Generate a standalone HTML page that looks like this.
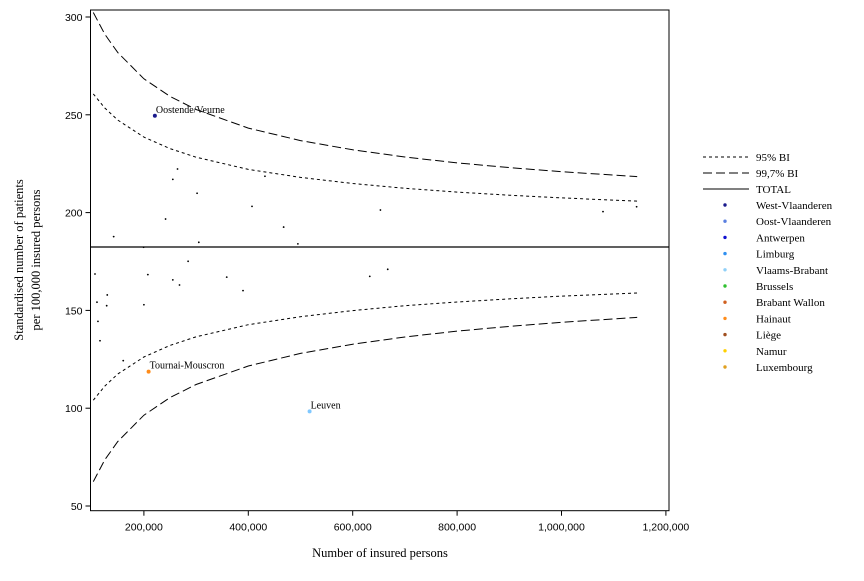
<!DOCTYPE html>
<html><head><meta charset="utf-8"><style>
body{margin:0;background:#fff;}
svg text{font-family:"Liberation Sans",sans-serif;}
.serif{font-family:"Liberation Serif",serif;}
</style></head><body>
<svg id="chart" width="864" height="576" xmlns="http://www.w3.org/2000/svg"></svg>
<script>
const total = 182.4;
const bandN = [103000,125000,150000,200000,250000,300000,400000,500000,600000,700000,800000,900000,1000000,1145000];
const ci95Upper = [260.7,253.5,247.3,238.6,232.7,228.3,222.1,218.0,214.9,212.4,210.5,208.9,207.5,205.9];
const ci95Lower = [104.1,111.3,117.5,126.2,132.1,136.5,142.7,146.8,149.9,152.4,154.3,155.9,157.3,158.9];
const ci997Upper = [302.3,291.2,281.8,268.4,259.4,252.7,243.2,236.8,232.1,228.4,225.4,223.0,220.9,218.4];
const ci997Lower = [62.5,73.6,83.0,96.4,105.4,112.1,121.6,128.0,132.7,136.4,139.4,141.8,143.9,146.4];
const pointX = [264400,255400,301900,431900,407100,241500,467700,142100,199400,305200,495000,653100,1079500,1143900,284700,106300,207600,358700,255400,268200,389900,129800,110100,128700,200000,112000,115900,160400,632700,667100];
const pointY = [222.3,217.0,209.9,218.6,203.2,196.7,192.6,187.7,182.3,184.8,184.0,201.3,200.5,203.0,175.1,168.6,168.3,167.0,165.6,163.0,160.1,157.9,154.2,152.4,152.9,144.4,134.5,124.3,167.4,171.0];
const namedLabels = ["Oostende/Veurne","Tournai-Mouscron","Leuven"];
const namedX = [221000,209000,517400];
const namedY = [249.5,118.7,98.4];
const namedColors = ["#1a1a8c","#ff8c1a","#80c8ff"];
const xTicks = [200000,400000,600000,800000,1000000,1200000];
const xTickLabels = ["200,000","400,000","600,000","800,000","1,000,000","1,200,000"];
const yTicks = [50,100,150,200,250,300];
const legendNames = ["West-Vlaanderen","Oost-Vlaanderen","Antwerpen","Limburg","Vlaams-Brabant","Brussels","Brabant Wallon","Hainaut","Liège","Namur","Luxembourg"];
const legendColors = ["#1a1a8c","#5a7fe0","#1010d0","#3090f0","#90d0f8","#30c030","#d06020","#ff8c1a","#a05020","#ffd000","#e0a020"];

const L=90.5,R=669,T=10,B=510.7;
const sx=v=>39.5+v/200000*104.4;
const sy=v=>17+(300-v)/50*97.8;
const svg=document.getElementById('chart');
const NS='http://www.w3.org/2000/svg';
function mk(tag,attrs,parent){const e=document.createElementNS(NS,tag);for(const k in attrs)e.setAttribute(k,attrs[k]);(parent||svg).appendChild(e);return e;}

const defs=mk('defs',{});
const cp=mk('clipPath',{id:'clip'},defs);
mk('rect',{x:L,y:T,width:R-L,height:B-T},cp);

const frame=mk('rect',{x:L,y:T,width:R-L,height:B-T,fill:'none',stroke:'#000','stroke-width':1});



const g=mk('g',{'clip-path':'url(#clip)'});



function line(vals,dash,name){
  const d=bandN.map((n,i)=>(i?'L':'M')+sx(n).toFixed(1)+','+sy(vals[i]).toFixed(1)).join(' ');
  const p=mk('path',{d:d,fill:'none',stroke:'#000','stroke-width':1,'stroke-dasharray':dash},g);
  
  
}
line(ci95Upper,'3,3','ci95-upper-line');
line(ci95Lower,'3,3','ci95-lower-line');
line(ci997Upper,'9,4','ci997-upper-line');
line(ci997Lower,'9,4','ci997-lower-line');
const tl=mk('line',{x1:L,x2:R,y1:sy(total),y2:sy(total),stroke:'#000','stroke-width':1.2},g);



pointX.forEach((x,i)=>{
  const c=mk('circle',{cx:sx(x),cy:sy(pointY[i]),r:0.9,fill:'#000'},g);
  
  
});
namedLabels.forEach((lab,i)=>{
  const c=mk('circle',{cx:sx(namedX[i]),cy:sy(namedY[i]),r:2,fill:namedColors[i]},g);
  
  
  const t=mk('text',{x:sx(namedX[i])+1,y:sy(namedY[i])-3,'font-size':10,class:'serif'});
  
  
  t.textContent=lab;
});

xTicks.forEach((v,i)=>{
  const x=sx(v);
  const tk=mk('line',{x1:x,x2:x,y1:B,y2:B+5,stroke:'#000'});
  
  
  const t=mk('text',{x:x,y:B+20,'text-anchor':'middle','font-size':10.5});
  
  
  t.textContent=xTickLabels[i];
});
yTicks.forEach(v=>{
  const y=sy(v);
  const tk=mk('line',{x1:L-5,x2:L,y1:y,y2:y,stroke:'#000'});
  
  
  const t=mk('text',{x:L-8,y:y+4,'text-anchor':'end','font-size':10.5});
  
  
  t.textContent=v;
});

const xt=mk('text',{x:380,y:557,'text-anchor':'middle','font-size':12.5,class:'serif'});


xt.textContent='Number of insured persons';
const yt=mk('text',{transform:'translate(23,260) rotate(-90)','text-anchor':'middle','font-size':12.5,class:'serif'});


mk('tspan',{x:0,dy:0},yt).textContent='Standardised number of patients';
mk('tspan',{x:0,dy:17},yt).textContent='per 100,000 insured persons';

const lg=mk('g',{});


const lineEntries=[['95% BI','3,3'],['99,7% BI','9,4'],['TOTAL','']];
lineEntries.forEach((e,i)=>{
  const y=157+i*16;
  const ln=mk('line',{x1:703,x2:749,y1:y,y2:y,stroke:'#000','stroke-dasharray':e[1]},lg);
  
  
  const t=mk('text',{x:756,y:y+4,'font-size':11,class:'serif'},lg);
  
  
  t.textContent=e[0];
});
legendNames.forEach((n,i)=>{
  const y=205+i*16.2;
  const c=mk('circle',{cx:725,cy:y,r:1.7,fill:legendColors[i]},lg);
  
  
  const t=mk('text',{x:756,y:y+4,'font-size':11,class:'serif'},lg);
  
  
  t.textContent=n;
});
</script>
</body></html>
